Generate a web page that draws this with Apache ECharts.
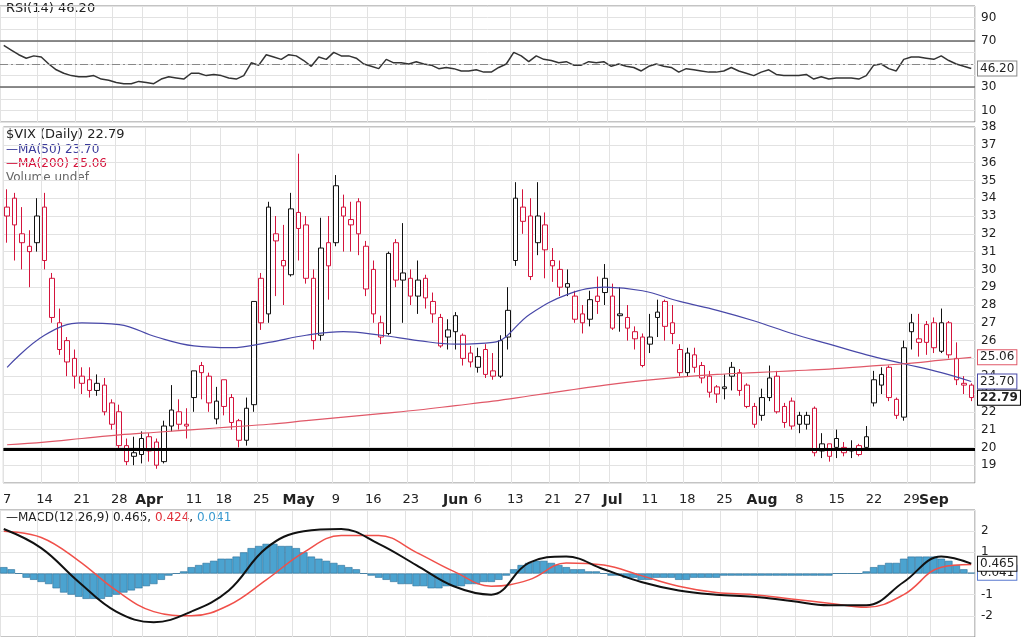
<!DOCTYPE html>
<html>
<head>
<meta charset="utf-8">
<script src="https://cdn.jsdelivr.net/npm/echarts@6/dist/echarts.min.js"></script>
<style>
  html, body { margin: 0; padding: 0; background: #fff; }
  #chart { width: 1024px; height: 637px; }
</style>
</head>
<body>
<div id="chart"></div>
<script>
// 交易日 2022-03-07 .. 2022-09-09
var holidays = ['2022-04-15', '2022-05-30', '2022-06-20', '2022-07-04', '2022-09-05'];
var monthNames = ['Jan', 'Feb', 'Mar', 'Apr', 'May', 'Jun', 'Jul', 'Aug', 'Sep', 'Oct', 'Nov', 'Dec'];

// K线 [open, close, low, high]
var ohlc = [
    // Mar
    [33.5,33.0,31.5,34.5],[34,32.5,30.5,34.3],[32,31.5,30,33.5],[31,31.3,29,32.2],[31.5,33,31,34],
    [33.5,30.5,30,34.3],[29.5,27.3,27,29.8],[27,25.5,25.2,27.8],[26,24.8,24,26.2],[25,24,23.3,25.5],
    [24,23.6,23,24.5],[23.8,23.2,22.8,24.5],[23.2,23.6,22.9,24.1],[23.5,22,21.8,23.9],[22.5,21.3,21,22.7],
    [22,20.1,19.8,22.4],[20.1,19.2,19,20.5],[19.7,19.5,19,20.6],[19.6,20.5,19.1,20.9],
    // Apr
    [20.6,19.8,19.2,20.8],[20.3,19,18.8,20.5],[19.2,21.2,19.1,21.5],[21.2,22.1,20.9,23.5],[22,21.3,21,22.7],
    [21.3,21.2,20.5,22.2],[22.8,24.3,22,24.3],[24.6,24.2,22.7,24.8],[24,22.5,22,24.2],[21.6,22.6,21.3,23.4],
    [23.8,22.3,21.8,23.8],[22.8,21.4,21,23],[21.5,20.4,20,21.6],[20.4,22.2,20.1,22.8],[22.4,28.2,22,28.2],
    [29.5,27,26.6,29.8],[27.5,33.5,27,33.8],[32,31.6,28.5,33],[30.5,30.2,28,32.5],[29.7,33.4,29.6,34.3],
    // May
    [33.2,32.3,30.5,36.5],[32.5,29.5,29.2,33],[29.5,26,25.5,30],[26.3,31.2,26,32.9],[31.5,30.2,28.3,33],
    [31.5,34.7,31.3,35.3],[33.5,33,31,34.2],[32.8,32.5,31,33.8],[33.8,32,30.8,34],[31.3,28.9,28.5,31.6],
    [30,27.5,27,30.5],[27,26.2,25.8,27.4],[26.4,30.9,26.3,31],[31.5,29.4,29,31.7],[29.8,29.4,27,32.6],
    [29.5,28.5,28,30],[28.5,29.4,27.5,30.5],[29.5,28.4,27.8,29.7],[28.2,27.5,27,28.7],[27.3,25.7,25.6,27.5],
    [26.6,26.2,25.5,27.2],
    // Jun
    [27.4,26.5,25.5,27.6],[26.3,25,24.6,26.4],[25.3,24.8,24.5,25.7],[24.5,25.1,24.2,25.6],[25.5,24.1,23.9,25.8],
    [24.3,24,23.8,25.3],[24,26,23.9,26.3],[26.2,27.7,25.5,29],[30.5,34,30.2,34.9],[33.5,32.7,32,34.5],
    [33,29.6,29.4,34],[31.5,33,30.8,34.9],[32.5,31.1,29.5,33.2],[30.5,30.2,29.3,31.2],[30,29,28.5,30.5],
    [29.2,29,28.5,30],[28.5,27.2,27,28.8],[27.5,27,26.4,28],[27.2,28.3,26.8,28.8],[28.5,28.2,27.5,29.6],
    [29.5,28.7,28,30.3],
    // Jul
    [28.5,26.7,26.6,29.2],[27.5,27.4,26.5,29],[27.3,26.7,26,28],[26.5,26.1,25.5,26.8],[26.2,24.6,24.5,26.4],
    [25.8,26.2,25.3,27.5],[27.6,27.3,26.2,28.3],[28.2,26.8,26,28.3],[27,26.4,25.8,28],[25.5,24.2,24,25.8],
    [24.2,25.3,24,25.6],[25.2,24.5,24.2,25.6],[24.6,23.9,23.6,24.8],[24,23.1,22.8,24.3],[23.4,23.0,22.5,23.5],
    [23.3,23.4,22.7,24.1],[24.5,24,23.2,24.8],[24.2,23.2,22.9,24.4],[23.5,22.3,22.2,23.6],[22.3,21.3,21.1,22.5],
    // Aug
    [21.8,22.8,21.5,23.3],[22.8,23.9,22.6,24.6],[24,22,21.9,24.3],[22.3,21.4,21.1,22.5],[22.6,21.2,21,22.8],
    [21.8,21.3,20.8,22],[21.3,21.8,21,22],[22.2,19.7,19.5,22.3],[19.8,20.2,19.4,20.8],[20.2,19.5,19.2,20.2],
    [20.5,20,19.4,21],[20,19.7,19.5,20.3],[19.8,19.9,19.4,20.4],[20.1,19.6,19.5,20.2],[20,20.6,19.8,21.2],
    [22.5,23.8,22.3,24.3],[23.5,24.1,23,24.5],[24.5,22.8,22.6,24.6],[22.7,21.8,21.6,22.8],[21.7,25.6,21.5,26],
    [27,26.5,25.5,27.5],[25.9,26.1,25.1,27.5],[26.9,25.9,25.2,27.1],
    // Sep
    [27,25.6,25.3,27.3],[25.4,27,25.3,27.8],[27,25.2,25,27.1],[25,23.8,23.5,25.9],[23.6,23.5,23,24],
    [23.5,22.8,22.6,23.6]
];

// 均线 (取样点, 每5个交易日)
var maIdx = [0,5,10,15,20,25,30,35,40,45,50,55,60,65,70,75,80,85,90,95,100,105,110,115,120,125,129];
var ma50 = [24.5,26.3,27,26.9,26.2,25.7,25.6,25.9,26.3,26.5,26.3,26.0,25.8,25.9,27.5,28.6,29.0,28.8,28.2,27.7,27.1,26.4,25.8,25.2,24.7,24.2,23.7];
var ma200 = [20.15,20.3,20.5,20.7,20.85,21.0,21.15,21.3,21.5,21.7,21.9,22.1,22.35,22.6,22.9,23.2,23.5,23.75,23.95,24.1,24.2,24.3,24.4,24.55,24.7,24.9,25.06];

// RSI(14)
var rsi = [
    66,62,58,55,57,56,50,45,42,40,39,39,40,37,36,34,33,33,35,
    34,33,37,39,38,37,42,42,40,41,40,38,37,40,51,49,58,56,54,58,
    57,53,48,56,54,60,57,57,55,50,48,46,54,51,51,50,52,50,49,46,47,
    46,44,44,45,43,43,47,50,60,57,52,57,54,53,51,52,49,49,52,51,52,
    48,50,48,47,44,48,50,48,47,43,46,45,44,43,43,44,47,44,42,40,
    43,45,41,40,40,40,41,37,39,37,38,38,38,37,40,49,50,46,44,54,56,56,55,
    54,57,53,50,48,46.2
];

// MACD(12,26,9)
var macdLine = [2.1,1.2,-0.4,-1.8,-2.3,-1.8,-0.8,1.2,2.0,2.1,1.4,0.4,-0.6,-1.0,0.5,0.8,0.2,-0.4,-0.8,-1.0,-1.1,-1.3,-1.5,-1.5,-0.4,0.8,0.465];
var signalLine = [2.0,1.7,0.6,-0.8,-1.8,-2.0,-1.5,-0.3,1.0,1.8,1.8,1.0,0.1,-0.6,-0.3,0.5,0.4,-0.1,-0.6,-0.9,-1.0,-1.2,-1.4,-1.6,-1.0,0.3,0.424];
var macdHist = [
    0.3,0.2,0.0,-0.2,-0.3,-0.4,-0.5,-0.7,-0.9,-1.0,-1.1,-1.2,-1.2,-1.2,-1.1,-1.0,-0.9,-0.8,-0.7,
    -0.6,-0.5,-0.3,-0.1,0.0,0.1,0.3,0.4,0.5,0.6,0.7,0.7,0.8,1.0,1.2,1.3,1.4,1.4,1.3,1.3,
    1.2,1.0,0.8,0.7,0.6,0.5,0.4,0.3,0.2,0.0,-0.1,-0.2,-0.3,-0.4,-0.5,-0.5,-0.6,-0.6,-0.7,-0.7,-0.6,
    -0.6,-0.6,-0.5,-0.5,-0.4,-0.4,-0.3,-0.1,0.2,0.4,0.5,0.6,0.6,0.5,0.4,0.3,0.2,0.2,0.1,0.1,0.0,
    -0.1,-0.1,-0.2,-0.2,-0.3,-0.3,-0.2,-0.2,-0.2,-0.3,-0.3,-0.2,-0.2,-0.2,-0.2,-0.1,-0.1,-0.1,-0.1,-0.1,
    -0.1,-0.1,-0.1,-0.1,-0.1,-0.1,-0.1,-0.1,-0.1,-0.1,0.0,0.0,0.0,0.0,0.1,0.3,0.4,0.5,0.5,0.7,0.8,0.8,0.8,
    0.8,0.7,0.6,0.4,0.2,0.041
];

var priceTicks = [19,20,21,22,23,24,25,26,27,28,29,30,31,32,33,34,35,36,37,38];

// 生成交易日
var dates = [];
var d = new Date(Date.UTC(2022, 2, 7));
while (dates.length < ohlc.length) {
    var s = d.toISOString().slice(0, 10);
    var wd = d.getUTCDay();
    if (wd !== 0 && wd !== 6 && holidays.indexOf(s) < 0) dates.push(s);
    d.setUTCDate(d.getUTCDate() + 1);
}

// 横轴标签: 月初显示月份, 每周第一个交易日显示日期
var labels = [];
var monthIdx = [];
for (var i = 0; i < dates.length; i++) {
    if (i > 0 && dates[i].slice(5, 7) !== dates[i - 1].slice(5, 7)) monthIdx.push(i);
}
for (var i = 0; i < dates.length; i++) {
    var dt = new Date(dates[i] + 'T00:00:00Z');
    if (monthIdx.indexOf(i) >= 0) { labels.push('{b|' + monthNames[dt.getUTCMonth()] + '}'); continue; }
    var firstOfWeek = i === 0 || (dt - new Date(dates[i - 1] + 'T00:00:00Z')) > 86400000 * 1.5 && dt.getUTCDay() <= 2;
    var near = monthIdx.some(function (m) { return Math.abs(m - i) <= 2; });
    labels.push(firstOfWeek && !near ? String(dt.getUTCDate()) : '');
}
function tickShown(idx) { return labels[idx] !== ''; }

function sparse(idxs, vals) {
    var out = [];
    for (var i = 0; i < dates.length; i++) out.push(null);
    for (var j = 0; j < idxs.length; j++) out[idxs[j]] = vals[j];
    return out;
}

var RED = '#d4143c', BLACK = '#111';
var candleData = ohlc.map(function (r, i) {
    var prev = i > 0 ? ohlc[i - 1][1] : r[0];
    var c = r[1] < prev ? RED : BLACK;
    return {
        value: r,
        itemStyle: { color: '#fff', color0: c, borderColor: c, borderColor0: c, borderWidth: 1 }
    };
});

var FONT = 'DejaVu Sans';
var gridLine = { show: true, lineStyle: { color: '#e2e2e2', width: 1 } };

// 右侧数值标签
function tag(value, text, border, bold) {
    return {
        silent: true, symbol: 'none', precision: 3,
        lineStyle: { width: 1, color: 'rgba(0,0,0,0)', type: 'solid' },
        label: {
            show: true, position: 'end', distance: 3, formatter: text,
            color: '#222', fontFamily: FONT, fontSize: 12, fontWeight: bold ? 'bold' : 'normal',
            backgroundColor: '#fff', borderColor: border, borderWidth: 1, padding: [1, 2]
        },
        data: [{ yAxis: value }]
    };
}

function xAxisFor(gi, showLabels) {
    return {
        type: 'category', gridIndex: gi, data: dates, boundaryGap: true,
        axisLine: { show: false }, axisTick: { show: false },
        axisLabel: showLabels ? {
            interval: 0, formatter: function (v, idx) { return labels[idx]; },
            fontFamily: FONT, fontSize: 13, color: '#222', margin: 10,
            rich: { b: { fontWeight: 'bold', fontFamily: FONT, fontSize: 14, color: '#222' } }
        } : { show: false },
        splitLine: { show: true, interval: function (idx) { return tickShown(idx); }, lineStyle: { color: '#e2e2e2' } }
    };
}

var chart = echarts.init(document.getElementById('chart'));
chart.setOption({
    animation: false,
    backgroundColor: '#fff',
    grid: [
        { left: 0, right: 49, top: 6, height: 116, show: true, borderColor: '#888', backgroundColor: 'transparent' },
        { left: 0, right: 49, top: 127, height: 356, show: true, borderColor: '#888', backgroundColor: 'transparent' },
        { left: 0, right: 49, top: 510, height: 127, show: true, borderColor: '#888', backgroundColor: 'transparent' }
    ],
    xAxis: [xAxisFor(0, false), xAxisFor(1, true), xAxisFor(2, false)],
    yAxis: [
        {
            type: 'value', gridIndex: 0, position: 'right', min: 0, max: 100, interval: 10,
            axisLine: { show: false }, axisTick: { show: false }, splitLine: gridLine,
            axisLabel: { fontFamily: FONT, fontSize: 12, color: '#222', margin: 6,
                formatter: function (v) { return [10, 30, 70, 90].indexOf(v) >= 0 ? v : ''; } }
        },
        {
            type: 'value', gridIndex: 1, position: 'right', min: 18, max: 38, interval: 1,
            axisLine: { show: false }, axisTick: { show: false }, splitLine: gridLine,
            axisLabel: { fontFamily: FONT, fontSize: 12, color: '#222', margin: 6,
                formatter: function (v) { return priceTicks.indexOf(v) >= 0 ? v : ''; } }
        },
        {
            type: 'value', gridIndex: 2, position: 'right', min: -3, max: 3, interval: 1,
            axisLine: { show: false }, axisTick: { show: false }, splitLine: gridLine,
            axisLabel: { fontFamily: FONT, fontSize: 12, color: '#222', margin: 6,
                formatter: function (v) { return v === 0 || Math.abs(v) === 3 ? '' : v; } }
        }
    ],
    graphic: [
        { type: 'text', left: 6, top: 2, style: { text: 'RSI(14) 46.20', font: '13px "DejaVu Sans"', fill: '#222' } },
        { type: 'text', left: 6, top: 128, style: { text: '$VIX (Daily) 22.79', font: '13px "DejaVu Sans"', fill: '#222' } },
        { type: 'text', left: 6, top: 144, style: { text: '\u2014MA(50) 23.70', font: '12px "DejaVu Sans"', fill: '#3a3a9a' } },
        { type: 'text', left: 6, top: 158, style: { text: '\u2014MA(200) 25.06', font: '12px "DejaVu Sans"', fill: '#d4143c' } },
        { type: 'text', left: 6, top: 172, style: { text: 'Volume undef', font: '12px "DejaVu Sans"', fill: '#666' } },
        { type: 'text', left: 6, top: 512, style: { rich: {
            k: { fill: '#222', font: '12px "DejaVu Sans"' },
            r: { fill: '#e0303a', font: '12px "DejaVu Sans"' },
            u: { fill: '#3a9ad0', font: '12px "DejaVu Sans"' } },
            text: '{k|\u2014MACD(12,26,9) 0.465, }{r|0.424}{k|, }{u|0.041}' } }
    ],
    series: [
        {
            name: 'RSI', type: 'line', xAxisIndex: 0, yAxisIndex: 0, data: rsi,
            symbol: 'none', lineStyle: { color: '#333', width: 1.5 },
            markLine: {
                silent: true, symbol: 'none', label: { show: false },
                data: [
                    { yAxis: 70, lineStyle: { color: '#666', width: 1.5, type: 'solid' } },
                    { yAxis: 30, lineStyle: { color: '#666', width: 1.5, type: 'solid' } },
                    { yAxis: 50, lineStyle: { color: '#888', width: 1, type: [8, 3, 2, 3] } }
                ]
            }
        },
        {
            name: 'RSI tag', type: 'line', xAxisIndex: 0, yAxisIndex: 0, data: rsi, symbol: 'none',
            lineStyle: { opacity: 0 }, markLine: tag(46.2, '46.20', '#888', false)
        },
        {
            name: '$VIX', type: 'candlestick', xAxisIndex: 1, yAxisIndex: 1, data: candleData,
            barWidth: 5,
            markLine: {
                silent: true, symbol: 'none', label: { show: false },
                lineStyle: { color: '#000', width: 3, type: 'solid' },
                data: [{ yAxis: 19.9 }]
            }
        },
        {
            name: 'MA(50)', type: 'line', xAxisIndex: 1, yAxisIndex: 1, data: sparse(maIdx, ma50),
            connectNulls: true, smooth: 0.4, symbol: 'none', lineStyle: { color: '#4848a8', width: 1.2 }
        },
        {
            name: 'MA(200)', type: 'line', xAxisIndex: 1, yAxisIndex: 1, data: sparse(maIdx, ma200),
            connectNulls: true, smooth: 0.4, symbol: 'none', lineStyle: { color: '#e05868', width: 1.2 }
        },
        {
            name: 'tag50', type: 'line', xAxisIndex: 1, yAxisIndex: 1, data: sparse(maIdx, ma50), symbol: 'none',
            lineStyle: { opacity: 0 }, markLine: tag(23.7, '23.70', '#4848a8', false)
        },
        {
            name: 'tag200', type: 'line', xAxisIndex: 1, yAxisIndex: 1, data: sparse(maIdx, ma200), symbol: 'none',
            lineStyle: { opacity: 0 }, markLine: tag(25.06, '25.06', '#e05868', false)
        },
        {
            name: 'tagClose', type: 'line', xAxisIndex: 1, yAxisIndex: 1, data: sparse(maIdx, ma50), symbol: 'none',
            lineStyle: { opacity: 0 }, markLine: tag(22.79, '22.79', '#000', true)
        },
        {
            name: 'Hist', type: 'bar', xAxisIndex: 2, yAxisIndex: 2, data: macdHist,
            barCategoryGap: '0%', itemStyle: { color: '#4ba3d0', borderColor: '#2a6f98', borderWidth: 0.6 }
        },
        {
            name: 'Signal', type: 'line', xAxisIndex: 2, yAxisIndex: 2, data: sparse(maIdx, signalLine),
            connectNulls: true, smooth: 0.4, symbol: 'none', lineStyle: { color: '#f0504a', width: 1.5 }
        },
        {
            name: 'MACD', type: 'line', xAxisIndex: 2, yAxisIndex: 2, data: sparse(maIdx, macdLine),
            connectNulls: true, smooth: 0.4, symbol: 'none', lineStyle: { color: '#111', width: 2 }
        },
        {
            name: 'tagHist', type: 'line', xAxisIndex: 2, yAxisIndex: 2, data: macdHist, symbol: 'none',
            lineStyle: { opacity: 0 }, markLine: tag(0.041, '0.041', '#5a7ad0', false)
        },
        {
            name: 'tagMacd', type: 'line', xAxisIndex: 2, yAxisIndex: 2, data: macdHist, symbol: 'none',
            lineStyle: { opacity: 0 }, markLine: tag(0.465, '0.465', '#111', false)
        }
    ]
});
</script>
</body>
</html>
